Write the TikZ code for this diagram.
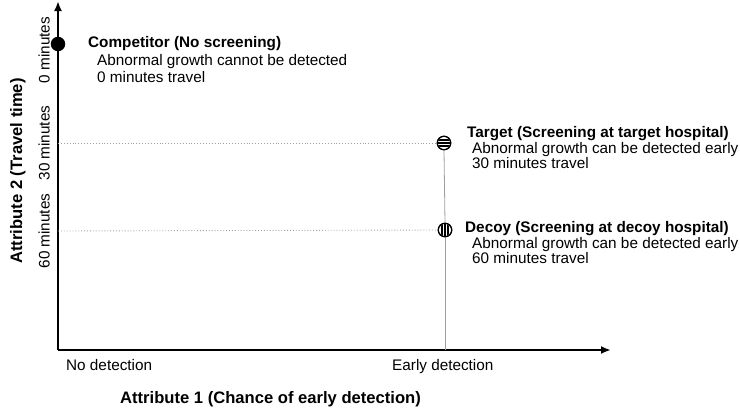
\documentclass[tikz,border=0pt]{standalone}
\usepackage{fontspec}
\setmainfont{Liberation Sans}
\usetikzlibrary{arrows.meta}
\begin{document}
\begin{tikzpicture}[x=1pt,y=-1pt,
  axis/.style={line width=2pt,-{Latex[length=10pt,width=8pt]}},
  guide/.style={gray!75,line width=0.8pt},
  dotguide/.style={gray!75,line width=0.9pt,dotted},
  txt/.style={font=\fontsize{15.3}{17}\selectfont,anchor=base west,inner sep=0pt},
  btxt/.style={font=\fontsize{15.3}{17}\selectfont\bfseries,anchor=base west,inner sep=0pt},
  ylab/.style={font=\fontsize{15.3}{17}\selectfont,rotate=90,anchor=base,inner sep=0pt},
  atitle/.style={font=\fontsize{16.6}{18}\selectfont\bfseries,inner sep=0pt},
  marker/.style={circle,draw=black,line width=1.1pt,fill=white,minimum size=13.5pt,inner sep=0pt}
]
\useasboundingbox (0,0) rectangle (740,408);

% axes
\coordinate (O) at (58,350);
\coordinate (ytop) at (58,1);
\coordinate (xend) at (611,350);
\draw[axis] (O) -- (ytop);
\draw[axis] (O) -- (xend);

% guide coordinates
\coordinate (y30) at (58,143);
\coordinate (y60) at (58,231);
\coordinate (xearly) at (445,350);

% markers
\node[circle,fill=black,minimum size=14.5pt,inner sep=0pt] (comp) at (58,44) {};
\node[marker] (target) at (444,143) {};
\node[marker] (decoy) at (445,230) {};

\draw[dotguide] (y30) -- (target.west);
\draw[dotguide] (y60) -- (decoy.west);
\draw[guide] (target.south) -- (decoy.north);
\draw[guide] (decoy.south) -- (xearly);

% stripes
\begin{scope}
  \clip (target.center) circle (6pt);
  \foreach \d in {-3.4,0,3.4}
    \draw[line width=1.9pt] ([yshift=\d pt]target.west) -- ([yshift=\d pt]target.east);
\end{scope}
\begin{scope}
  \clip (decoy.center) circle (6pt);
  \foreach \d in {-3.4,0,3.4}
    \draw[line width=1.9pt] ([xshift=\d pt]decoy.north) -- ([xshift=\d pt]decoy.south);
\end{scope}
\node[marker,fill=none] (targetring) at (target.center) {};
\node[marker,fill=none] (decoyring) at (decoy.center) {};

% competitor text
\node[btxt] (ct) at (88,47) {Competitor (No screening)};
\node[txt] (c1) at (97,65) {Abnormal growth cannot be detected};
\node[txt] (c2) at (97,82) {0 minutes travel};

% target text
\node[btxt] (tt) at (467,137.5) {Target (Screening at target hospital)};
\node[txt] (t1) at (472,153) {Abnormal growth can be detected early};
\node[txt] (t2) at (472,168) {30 minutes travel};

% decoy text
\node[btxt] (dt) at (465,232.5) {Decoy (Screening at decoy hospital)};
\node[txt] (d1) at (472,248) {Abnormal growth can be detected early};
\node[txt] (d2) at (472,263) {60 minutes travel};

% y-axis labels
\node[ylab] (l0) at (49.5,50) {0 minutes};
\node[ylab] (l30) at (49.5,143) {30 minutes};
\node[ylab] (l60) at (49.5,231) {60 minutes};
\node[atitle,rotate=90,anchor=base] (ay) at (22,171) {Attribute 2 (Travel time)};

% x-axis labels
\node[txt] (nd) at (66,370) {No detection};
\node[txt] (ed) at (392,370.5) {Early detection};
\node[atitle,anchor=base west] (ax) at (120,403) {Attribute 1 (Chance of early detection)};
\end{tikzpicture}
\end{document}
